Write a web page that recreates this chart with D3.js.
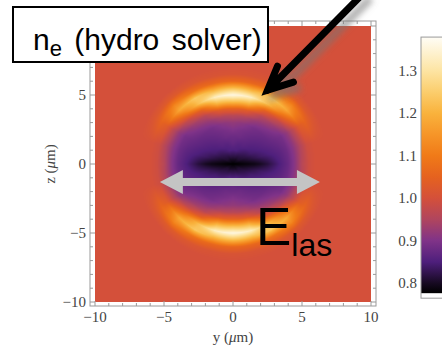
<!DOCTYPE html>
<html>
<head>
<meta charset="utf-8">
<script src="https://cdn.jsdelivr.net/npm/d3@7"></script>
<style>
body { margin: 0; background: #fff; }
svg { display: block; }
.serif { font-family: "Liberation Serif", "DejaVu Serif", serif; }
.sans { font-family: "Liberation Sans", Arial, sans-serif; }
</style>
</head>
<body>
<div id="app"></div>
<script>
"use strict";

// angle is measured from the y axis (deg), field is mirror symmetric in y and z
const radii = [0, 0.5, 1, 1.5, 2, 2.5, 3, 3.5, 4, 4.5, 5, 5.5, 6, 6.5, 7, 7.5, 8];
const angles = [0, 15, 30, 45, 60, 75, 90];
const densityRows = [
    [0.775, 0.78, 0.785, 0.79, 0.80, 0.815, 0.835, 0.855, 0.875, 0.91, 0.96, 0.99, 1.0, 1.0, 1.0, 1.0, 1.0],
    [0.775, 0.79, 0.805, 0.82, 0.835, 0.845, 0.855, 0.865, 0.88, 0.91, 0.95, 0.99, 1.0, 1.0, 1.0, 1.0, 1.0],
    [0.775, 0.805, 0.82, 0.84, 0.85, 0.86, 0.87, 0.88, 0.89, 0.92, 0.97, 1.03, 1.05, 1.02, 1.0, 1.0, 1.0],
    [0.775, 0.81, 0.83, 0.85, 0.86, 0.87, 0.88, 0.90, 0.93, 0.98, 1.08, 1.18, 1.12, 1.03, 1.0, 1.0, 1.0],
    [0.775, 0.81, 0.84, 0.86, 0.87, 0.88, 0.89, 0.92, 0.96, 1.05, 1.22, 1.24, 1.08, 1.02, 1.0, 1.0, 1.0],
    [0.775, 0.815, 0.85, 0.86, 0.88, 0.89, 0.91, 0.95, 1.03, 1.20, 1.33, 1.20, 1.06, 1.01, 1.0, 1.0, 1.0],
    [0.775, 0.815, 0.85, 0.87, 0.88, 0.90, 0.92, 0.96, 1.05, 1.22, 1.36, 1.22, 1.06, 1.01, 1.0, 1.0, 1.0]
];

// colour bar (value -> colour)
const colorValues = [0.776, 0.80, 0.85, 0.90, 0.95, 1.00, 1.05, 1.10, 1.15, 1.20, 1.25, 1.30, 1.38];
const colorStops = ["#000000", "#170a22", "#4e1f7c", "#803388", "#b0455e", "#d4503a", "#e5621f",
                    "#f07a18", "#f69528", "#f9b23c", "#fbcd6c", "#fde4a2", "#fffdf6"];

const axisTicks = [-10, -5, 0, 5, 10];
const minorTicks = d3.range(-10, 11, 1);
const barTicks = [0.8, 0.9, 1.0, 1.1, 1.2, 1.3];

const W = 442, H = 347;

const x = d3.scaleLinear().domain([-10, 10]).range([95, 371]);
const z = d3.scaleLinear().domain([-10, 10]).range([302, 26]);
const cb = d3.scaleLinear().domain([0.8, 1.3]).range([283, 71]);
const color = d3.scaleLinear().domain(colorValues).range(colorStops)
    .interpolate(d3.interpolateRgb).clamp(true);

const rowScales = densityRows.map(row =>
    d3.scaleLinear().domain(radii).range(row).clamp(true));

/**
 * density at (yv, zv) from the ray samples
 */
const density = (yv, zv) => {
    const r = Math.hypot(yv, zv);
    const a = Math.atan2(Math.abs(zv), Math.abs(yv)) * 180 / Math.PI;
    const k = Math.min(angles.length - 2, Math.max(0, d3.bisectRight(angles, a) - 1));
    const t = (a - angles[k]) / (angles[k + 1] - angles[k]);
    return rowScales[k](r) * (1 - t) + rowScales[k + 1](r) * t;
};

const svg = d3.select("#app").append("svg")
    .attr("width", W).attr("height", H);

const defs = svg.append("defs");
defs.append("filter").attr("id", "soft")
    .attr("x", "-30%").attr("y", "-30%").attr("width", "160%").attr("height", "160%")
    .append("feGaussianBlur").attr("stdDeviation", 3);

// heat map drawn to a canvas, then placed as an image
const px0 = x(-10), py0 = z(10);
const cw = Math.round(x(10) - px0), ch = Math.round(z(-10) - py0);
const canvas = document.createElement("canvas");
canvas.width = cw; canvas.height = ch;
const ctx = canvas.getContext("2d");
const img = ctx.createImageData(cw, ch);
for (let j = 0; j < ch; j++) {
    const zv = z.invert(py0 + j + 0.5);
    for (let i = 0; i < cw; i++) {
        const yv = x.invert(px0 + i + 0.5);
        const c = d3.rgb(color(density(yv, zv)));
        const p = (j * cw + i) * 4;
        img.data[p] = c.r; img.data[p + 1] = c.g; img.data[p + 2] = c.b; img.data[p + 3] = 255;
    }
}
ctx.putImageData(img, 0, 0);
svg.append("image")
    .attr("x", px0).attr("y", py0).attr("width", cw).attr("height", ch)
    .attr("preserveAspectRatio", "none")
    .attr("href", canvas.toDataURL());

// frame with ticks on all sides
const fx0 = 90, fx1 = 376, fy0 = 21, fy1 = 306;
const frame = svg.append("g").attr("stroke", "#9a9a9a").attr("fill", "none");
frame.append("rect").attr("x", fx0).attr("y", fy0).attr("width", fx1 - fx0).attr("height", fy1 - fy0);
minorTicks.forEach(v => {
    const len = axisTicks.includes(v) ? 5 : 3;
    frame.append("line").attr("x1", x(v)).attr("x2", x(v)).attr("y1", fy1).attr("y2", fy1 - len);
    frame.append("line").attr("x1", x(v)).attr("x2", x(v)).attr("y1", fy0).attr("y2", fy0 + len);
    frame.append("line").attr("y1", z(v)).attr("y2", z(v)).attr("x1", fx0).attr("x2", fx0 + len);
    frame.append("line").attr("y1", z(v)).attr("y2", z(v)).attr("x1", fx1).attr("x2", fx1 - len);
});

const fmt = v => (v < 0 ? "\u2212" : "") + Math.abs(v);
svg.append("g").selectAll("text").data(axisTicks).join("text")
    .classed("serif", true)
    .attr("x", d => x(d)).attr("y", 322)
    .attr("text-anchor", "middle")
    .attr("font-size", 15).attr("fill", "#444")
    .text(fmt);
svg.append("g").selectAll("text").data(axisTicks).join("text")
    .classed("serif", true)
    .attr("x", 86).attr("y", d => z(d) + 5)
    .attr("text-anchor", "end")
    .attr("font-size", 15).attr("fill", "#444")
    .text(fmt);

const xTitle = svg.append("text").classed("serif", true)
    .attr("x", x(0)).attr("y", 342).attr("text-anchor", "middle")
    .attr("font-size", 15).attr("fill", "#444");
xTitle.append("tspan").text("y (");
xTitle.append("tspan").attr("font-style", "italic").text("\u03bc");
xTitle.append("tspan").text("m)");

const zTitle = svg.append("text").classed("serif", true)
    .attr("transform", `translate(55,${z(0)}) rotate(-90)`).attr("text-anchor", "middle")
    .attr("font-size", 15).attr("fill", "#444");
zTitle.append("tspan").text("z (");
zTitle.append("tspan").attr("font-style", "italic").text("\u03bc");
zTitle.append("tspan").text("m)");

// colour bar
const grad = defs.append("linearGradient").attr("id", "cbar")
    .attr("x1", 0).attr("y1", 1).attr("x2", 0).attr("y2", 0);
colorValues.forEach((v, i) => {
    grad.append("stop")
        .attr("offset", (v - colorValues[0]) / (colorValues[colorValues.length - 1] - colorValues[0]))
        .attr("stop-color", colorStops[i]);
});
const cbTop = cb(colorValues[colorValues.length - 1]), cbBottom = cb(colorValues[0]);
svg.append("rect")
    .attr("x", 421).attr("y", cbTop)
    .attr("width", 40).attr("height", cbBottom - cbTop)
    .attr("fill", "url(#cbar)");
svg.append("rect")
    .attr("x", 421).attr("y", cbTop)
    .attr("width", 40).attr("height", cbBottom - cbTop + 5)
    .attr("fill", "none").attr("stroke", "#9a9a9a");
svg.append("g").selectAll("text").data(barTicks).join("text")
    .classed("serif", true)
    .attr("x", 417).attr("y", d => cb(d) + 5)
    .attr("text-anchor", "end")
    .attr("font-size", 15).attr("fill", "#444")
    .text(d3.format(".1f"));

// gray double arrow for the laser field
const ay = z(-1.3), ya = x(-5.3), yb = x(6.3);
const hw = 4, hh = 12, hl = 23;
svg.append("path")
    .attr("d", `M${ya},${ay} L${ya + hl},${ay - hh} L${ya + hl},${ay - hw} L${yb - hl},${ay - hw}
        L${yb - hl},${ay - hh} L${yb},${ay} L${yb - hl},${ay + hh} L${yb - hl},${ay + hw}
        L${ya + hl},${ay + hw} L${ya + hl},${ay + hh} Z`)
    .attr("fill", "#c4c4c4");

const eLabel = svg.append("text").classed("sans", true)
    .attr("x", 256).attr("y", 245)
    .attr("fill", "#000");
eLabel.append("tspan").attr("font-size", 53).text("E");
eLabel.append("tspan").attr("font-size", 32).attr("dy", 11).text("las");

// black arrow pointing at the upper crest
const tipX = x(2.5), tipY = z(5.35);
const arrowPath = `M${tipX + 96},${tipY - 97} L${tipX},${tipY} M${tipX + 10},${tipY - 24} L${tipX},${tipY} L${tipX + 26},${tipY - 8}`;
svg.append("path").attr("d", arrowPath)
    .attr("transform", "translate(7,5)")
    .attr("fill", "none").attr("stroke", "#777").attr("stroke-opacity", 0.6)
    .attr("stroke-width", 8).attr("filter", "url(#soft)");
svg.append("path").attr("d", arrowPath)
    .attr("fill", "none").attr("stroke", "#000")
    .attr("stroke-width", 7).attr("stroke-linejoin", "miter").attr("stroke-linecap", "round");

// label box
svg.append("rect")
    .attr("x", 13).attr("y", 7).attr("width", 255).attr("height", 55)
    .attr("fill", "#fff").attr("stroke", "#000").attr("stroke-width", 2);
const boxText = svg.append("text").classed("sans", true)
    .attr("x", 33).attr("y", 50)
    .attr("fill", "#000")
    .style("white-space", "pre");
boxText.append("tspan").attr("font-size", 30).text("n");
boxText.append("tspan").attr("font-size", 22).attr("dy", 6).text("e");
boxText.append("tspan").attr("font-size", 30).attr("dy", -6).attr("word-spacing", 4).text(" (hydro solver)");
</script>
</body>
</html>
